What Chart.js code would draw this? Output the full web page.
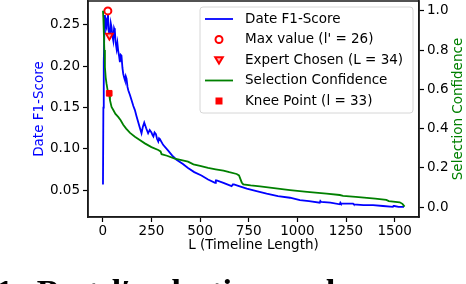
<!DOCTYPE html>
<html>
<head>
<meta charset="utf-8">
<script src="https://cdn.jsdelivr.net/npm/chart.js@4"></script>
<style>
  html, body { margin: 0; padding: 0; background: #fff; overflow: hidden; }
  #wrap { position: relative; width: 466px; height: 284px; overflow: hidden; }
  #caption {
    position: absolute; left: -4px; top: 275px; white-space: nowrap;
    font: bold 34px "Liberation Serif", "DejaVu Serif", serif; color: #000; line-height: 1;
    word-spacing: 4px;
  }
</style>
</head>
<body>
<div id="wrap">
  <canvas id="chart" width="466" height="284"></canvas>
  <div id="caption">1: Best l′ selection and our sample conflict th</div>
</div>
<script>
// Date F1-Score against timeline length L (left axis)
const f1Lengths = [1, 3, 5, 8, 11, 15, 19, 22, 26, 30, 34, 37, 41, 45, 50, 54, 58, 62, 66, 71,
  75, 79, 84, 88, 92, 96, 101, 105, 110, 114, 118, 122, 127, 131, 140, 148, 157, 165, 173, 180,
  190, 199, 206, 213, 223, 233, 241, 250, 255, 260, 266, 273, 279, 285, 289, 293, 310, 336, 357, 379,
  410, 438, 470, 507, 541, 577, 581, 585, 620, 662, 668, 674, 700, 740, 790, 842, 900, 962, 1013, 1060,
  1115, 1118, 1122, 1170, 1218, 1221, 1224, 1286, 1290, 1340, 1389, 1440, 1491, 1494, 1498, 1520, 1548];
const f1Scores = [0.057, 0.150, 0.205, 0.240, 0.262, 0.250, 0.247, 0.258, 0.267, 0.245, 0.237, 0.239, 0.252, 0.247, 0.236, 0.231, 0.246, 0.243, 0.229, 0.221,
  0.228, 0.219, 0.212, 0.205, 0.214, 0.213, 0.198, 0.191, 0.186, 0.183, 0.188, 0.185, 0.175, 0.171, 0.165, 0.159, 0.152, 0.147, 0.140, 0.134,
  0.126, 0.119, 0.127, 0.132, 0.125, 0.119, 0.123, 0.120, 0.117, 0.115, 0.120, 0.118, 0.112, 0.109, 0.113, 0.112, 0.105, 0.098, 0.092, 0.087,
  0.082, 0.077, 0.072, 0.068, 0.063, 0.059, 0.062, 0.062, 0.059, 0.055, 0.057, 0.057, 0.055, 0.052, 0.049, 0.046, 0.043, 0.041, 0.038, 0.037,
  0.035, 0.037, 0.036, 0.035, 0.033, 0.035, 0.034, 0.034, 0.033, 0.032, 0.032, 0.031, 0.030, 0.031, 0.031, 0.030, 0.030];

// Selection confidence against L (right axis)
const confLengths = [1, 3, 5, 8, 11, 15, 19, 24, 28, 33, 37, 45, 54, 65, 79, 91, 105, 120, 140, 165,
  190, 216, 250, 285, 297, 302, 330, 370, 410, 438, 466, 500, 541, 580, 620, 650, 688, 700, 706, 714,
  722, 760, 808, 900, 962, 1050, 1150, 1218, 1235, 1300, 1400, 1457, 1470, 1526, 1540, 1551];
const confValues = [1.0, 0.96, 0.90, 0.80, 0.713, 0.66, 0.63, 0.60, 0.585, 0.575, 0.545, 0.51, 0.495, 0.475, 0.46, 0.444, 0.42, 0.40, 0.378, 0.359,
  0.342, 0.325, 0.306, 0.291, 0.284, 0.270, 0.262, 0.247, 0.238, 0.232, 0.218, 0.210, 0.200, 0.193, 0.186, 0.178, 0.169, 0.162, 0.147, 0.126,
  0.116, 0.111, 0.106, 0.094, 0.087, 0.078, 0.069, 0.062, 0.058, 0.053, 0.044, 0.037, 0.031, 0.025, 0.017, 0.003];

// highlighted points
const maxPoint = { x: 26, y: 0.267 };
const expertPoint = { x: 34, y: 0.237 };
const kneePoint = { x: 33, y: 0.58 };

const xTicks = [0, 250, 500, 750, 1000, 1250, 1500];
const f1Ticks = [0.05, 0.10, 0.15, 0.20, 0.25];
const confTicks = [0.0, 0.2, 0.4, 0.6, 0.8, 1.0];

const legendLabels = ['Date F1-Score', "Max value (l' = 26)", 'Expert Chosen (L = 34)', 'Selection Confidence', 'Knee Point (l = 33)'];

const FONT = '"DejaVu Sans", sans-serif';
const BLUE = '#0000ff', GREEN = '#008000', RED = '#ff0000';

function toPoints(xs, ys) {
  return xs.map((x, i) => ({ x: x, y: ys[i] }));
}

const axisBits = {
  grid: { display: true, drawOnChartArea: false, drawTicks: true, tickLength: 5, tickColor: '#000', tickWidth: 1.2 },
  border: { display: true, color: '#1a1a1a', width: 1.5 }
};

// fixed scale sizes, no extra label padding around the plot
function fixSize(w, h) {
  return s => {
    if (w) s.width = w;
    if (h) s.height = h;
    s.paddingTop = 0; s.paddingBottom = 0; s.paddingLeft = 0; s.paddingRight = 0;
  };
}

// frame, axis titles and the legend box
const decorPlugin = {
  id: 'decor',
  afterDraw(chart) {
    const ctx = chart.ctx;
    const a = chart.chartArea;
    ctx.save();
    ctx.strokeStyle = '#1a1a1a';
    ctx.lineWidth = 1.5;
    ctx.strokeRect(a.left, a.top, a.right - a.left, a.bottom - a.top);

    ctx.font = '13.5px ' + FONT;
    ctx.textAlign = 'center';
    ctx.textBaseline = 'middle';
    const midY = (a.top + a.bottom) / 2;
    ctx.fillStyle = '#000';
    ctx.fillText('L (Timeline Length)', (a.left + a.right) / 2, 245);

    ctx.save();
    ctx.translate(39, midY);
    ctx.rotate(-Math.PI / 2);
    ctx.fillStyle = BLUE;
    ctx.fillText('Date F1-Score', 0, 0);
    ctx.restore();

    ctx.save();
    ctx.translate(458, midY);
    ctx.rotate(-Math.PI / 2);
    ctx.fillStyle = GREEN;
    ctx.fillText('Selection Confidence', 0, 0);
    ctx.restore();

    // legend
    const bx = 200, by = 7, bw = 213, bh = 106;
    ctx.beginPath();
    ctx.roundRect(bx, by, bw, bh, 3);
    ctx.fillStyle = 'rgba(255,255,255,0.85)';
    ctx.fill();
    ctx.strokeStyle = '#d6d6d6';
    ctx.lineWidth = 1;
    ctx.stroke();

    const rowY = [19, 39.5, 60, 80.5, 101];
    const mx = 219;
    ctx.textAlign = 'left';
    ctx.fillStyle = '#000';
    legendLabels.forEach((t, i) => ctx.fillText(t, 245, rowY[i]));

    ctx.lineWidth = 1.8;
    ctx.strokeStyle = BLUE;
    ctx.beginPath(); ctx.moveTo(205, rowY[0]); ctx.lineTo(233, rowY[0]); ctx.stroke();
    ctx.strokeStyle = GREEN;
    ctx.beginPath(); ctx.moveTo(205, rowY[3]); ctx.lineTo(233, rowY[3]); ctx.stroke();

    // max marker
    ctx.fillStyle = '#fff';
    ctx.strokeStyle = RED;
    ctx.lineWidth = 2;
    ctx.beginPath(); ctx.arc(mx, rowY[1], 3.5, 0, Math.PI * 2); ctx.fill(); ctx.stroke();
    // expert marker
    ctx.fillStyle = '#ffb0b0';
    ctx.beginPath();
    ctx.moveTo(mx - 3.8, rowY[2] - 2.8); ctx.lineTo(mx + 3.8, rowY[2] - 2.8); ctx.lineTo(mx, rowY[2] + 3.6);
    ctx.closePath(); ctx.fill(); ctx.stroke();
    // knee marker
    ctx.fillStyle = RED;
    ctx.fillRect(mx - 3.5, rowY[4] - 3.5, 7, 7);
    ctx.restore();
  }
};

new Chart(document.getElementById('chart').getContext('2d'), {
  type: 'line',
  data: {
    datasets: [
      {
        label: 'Date F1-Score', data: toPoints(f1Lengths, f1Scores), yAxisID: 'yF1',
        borderColor: BLUE, borderWidth: 1.8, pointRadius: 0, tension: 0, order: 4
      },
      {
        label: 'Max value', data: [maxPoint], yAxisID: 'yF1', showLine: false,
        pointStyle: 'circle', pointRadius: 3.5, pointBorderWidth: 2,
        pointBackgroundColor: '#fff', pointBorderColor: RED, order: 3
      },
      {
        label: 'Expert Chosen', data: [expertPoint], yAxisID: 'yF1', showLine: false,
        pointStyle: 'triangle', rotation: 180, pointRadius: 4, pointBorderWidth: 1.8,
        pointBackgroundColor: '#ffb0b0', pointBorderColor: RED, order: 2
      },
      {
        label: 'Selection Confidence', data: toPoints(confLengths, confValues), yAxisID: 'yConf',
        borderColor: GREEN, borderWidth: 1.8, pointRadius: 0, tension: 0, order: 1
      },
      {
        label: 'Knee Point', data: [kneePoint], yAxisID: 'yConf', showLine: false,
        pointStyle: 'rect', pointRadius: 4, pointBorderWidth: 1,
        pointBackgroundColor: RED, pointBorderColor: RED, order: 0
      }
    ]
  },
  options: {
    responsive: false,
    animation: false,
    layout: { autoPadding: false, padding: { top: 1, left: 0, right: 0, bottom: 0 } },
    plugins: { legend: { display: false }, tooltip: { enabled: false } },
    scales: {
      x: {
        type: 'linear', min: -76, max: 1625,
        ...axisBits,
        afterFit: fixSize(0, 67),
        afterBuildTicks: s => { s.ticks = xTicks.map(v => ({ value: v })); },
        ticks: { color: '#000', font: { family: FONT, size: 13.5 }, padding: 1, maxRotation: 0, callback: v => String(v) }
      },
      yF1: {
        type: 'linear', position: 'left', min: 0.0177, max: 0.279,
        ...axisBits,
        afterFit: fixSize(88, 0),
        afterBuildTicks: s => { s.ticks = f1Ticks.map(v => ({ value: v })); },
        ticks: { color: '#000', font: { family: FONT, size: 13.5 }, padding: 3, callback: v => v.toFixed(2) }
      },
      yConf: {
        type: 'linear', position: 'right', min: -0.05, max: 1.05,
        ...axisBits,
        afterFit: fixSize(47, 0),
        afterBuildTicks: s => { s.ticks = confTicks.map(v => ({ value: v })); },
        ticks: { color: '#000', font: { family: FONT, size: 13.5 }, padding: 3, callback: v => v.toFixed(1) }
      }
    }
  },
  plugins: [decorPlugin]
});
</script>
</body>
</html>
